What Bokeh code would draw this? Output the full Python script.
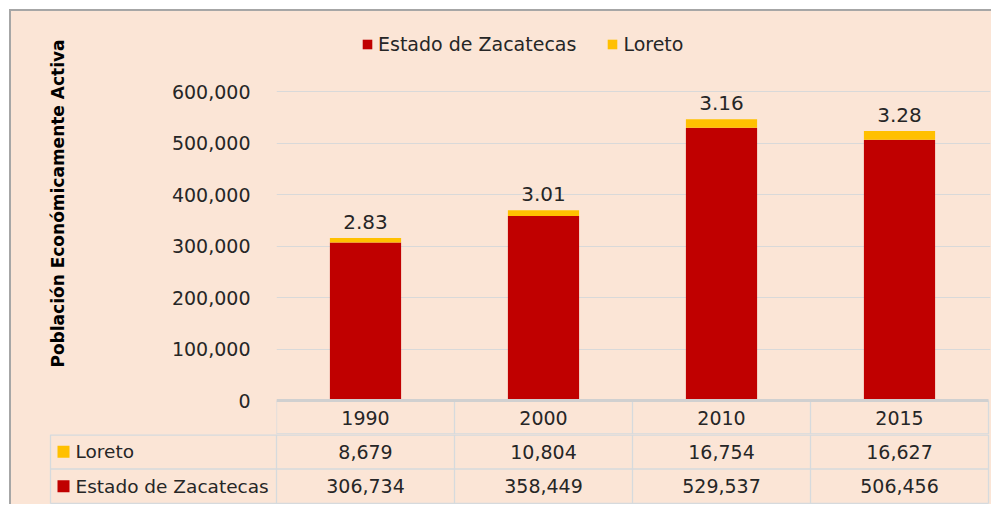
import math
from bokeh.plotting import figure
from bokeh.models import (ColumnDataSource, FixedTicker, NumeralTickFormatter, Range1d,
                          Legend, LegendItem, Div, Spacer, Label)
from bokeh.layouts import column, row
from bokeh.embed import file_html
from bokeh.resources import INLINE
from bokeh.core.properties import value

# ---------------- data ----------------
years = ["1990", "2000", "2010", "2015"]
estado = [306734, 358449, 529537, 506456]
loreto = [8679, 10804, 16754, 16627]
series_names = ["Estado de Zacatecas", "Loreto"]
y_ticks = [0, 100000, 200000, 300000, 400000, 500000, 600000]
y_title = "Población Económicamente Activa"

# ---------------- style ----------------
colors = ["#c00000", "#ffc000"]
FONT = "DejaVu Sans"
TXT = "#262626"
BG = "#fbe5d6"
GRID = "#d9d9d9"
CELL = "#d6dadd"
AXIS_LINE = "#d0d0d0"
EDGE = "#a6a6a6"

# ---------------- layout geometry (px, page-layout coords) ----------------
OFF = 11            # figures start here (9 white + 2 grey edge)
FIG_W = 980
TITLE_W = 90        # strip holding the rotated y title
FRAME_L = 276       # left of category area
FRAME_R = 990
TABLE_L = 48        # frame left of table figure
Y_TOP = 20          # chart frame top
Y_MAX_PX = 91       # pixel of top tick
Y_ZERO_PX = 400     # pixel of zero line
Y_ROW_PX = 434      # bottom of year row
TOTAL_H = 504
PX_PER_CAT = 178.0
TITLE_X = 57
TITLE_Y = 203

n = len(years)
xs = [i + 0.5 for i in range(n)]
totals = [e + l for e, l in zip(estado, loreto)]
pct = [f"{l / e * 100:.2f}" for l, e in zip(loreto, estado)]

src = ColumnDataSource(dict(x=xs, year=years, estado=estado, loreto=loreto,
                            total=totals, pct=pct,
                            estado_s=[f"{v:,}" for v in estado],
                            loreto_s=[f"{v:,}" for v in loreto]))

common_fig = dict(output_backend="svg", toolbar_location=None,
                  background_fill_alpha=0, border_fill_alpha=0, outline_line_color=None,
                  styles={"background-color": BG})

# ---------------- y title strip ----------------
P_H = Y_ROW_PX - OFF
tf = figure(width=TITLE_W, height=P_H, x_range=Range1d(0, 1), y_range=Range1d(0, 1),
            x_axis_type=None, y_axis_type=None, min_border=0, **common_fig)
tf.frame_align = False
tf.grid.visible = False
tf.add_layout(Label(x=TITLE_X - OFF, y=P_H - (TITLE_Y - OFF), x_units="screen", y_units="screen",
                    text=y_title, angle=math.pi / 2, text_align="center", text_baseline="middle",
                    text_font=FONT, text_font_size="17px", text_font_style="bold",
                    text_color="#000000"))

# ---------------- chart ----------------
u = y_ticks[-1] / (Y_ZERO_PX - Y_MAX_PX)
y_end = y_ticks[-1] + (Y_MAX_PX - Y_TOP) * u
y_start = -(Y_ROW_PX - Y_ZERO_PX) * u
x_end = (FRAME_R - FRAME_L) / PX_PER_CAT

p = figure(width=FIG_W - TITLE_W, height=P_H, x_range=Range1d(0, x_end),
           y_range=Range1d(y_start, y_end), x_axis_type=None,
           min_border_left=FRAME_L - OFF - TITLE_W, min_border_right=OFF + FIG_W - FRAME_R,
           min_border_top=Y_TOP - OFF, min_border_bottom=0, **common_fig)
p.frame_align = False

p.xgrid.visible = False
p.ygrid.ticker = FixedTicker(ticks=y_ticks[1:])
p.ygrid.grid_line_color = GRID
p.ygrid.grid_line_width = 1

ax = p.yaxis[0]
ax.ticker = FixedTicker(ticks=y_ticks)
ax.formatter = NumeralTickFormatter(format="0,0")
ax.axis_line_color = None
ax.major_tick_line_color = None
ax.minor_tick_line_color = None
ax.major_label_standoff = 20
ax.major_label_text_font = FONT
ax.major_label_text_font_size = "19px"
ax.major_label_text_color = TXT

bars = p.vbar_stack(["estado", "loreto"], x="x", width=0.4, color=colors,
                    line_color=None, source=src)

p.text(x="x", y="total", text="pct", source=src, text_align="center",
       text_baseline="alphabetic", y_offset=-16, text_font=value(FONT),
       text_font_size="20px", text_color=TXT)

# year row of the data table (lives under the zero line)
p.segment(x0=list(range(n + 1)), y0=[y_start] * (n + 1), x1=list(range(n + 1)), y1=[0] * (n + 1),
          line_color=CELL, line_width=1.3)
p.segment(x0=0, y0=y_start, x1=n, y1=y_start, line_color=CELL, line_width=2.6)
p.segment(x0=0, y0=0, x1=n, y1=0, line_width=3, line_color=AXIS_LINE)
p.text(x="x", y=y_start / 2, text="year", source=src, text_align="center",
       text_baseline="middle", text_font=value(FONT), text_font_size="19px", text_color=TXT)

legend = Legend(items=[LegendItem(label=series_names[0], renderers=[bars[0]]),
                       LegendItem(label=series_names[1], renderers=[bars[1]])],
                orientation="horizontal", location=(85, Y_ROW_PX - 55),
                glyph_width=12, glyph_height=12, label_standoff=5, spacing=30,
                padding=0, margin=0, border_line_color=None, background_fill_alpha=0,
                label_text_font=FONT, label_text_font_size="19px", label_text_color=TXT)
p.add_layout(legend)

# ---------------- data table (two series rows) ----------------
T_H = TOTAL_H - Y_ROW_PX
t_x0 = (TABLE_L - FRAME_L) / PX_PER_CAT
t_x1 = (FRAME_R - FRAME_L) / PX_PER_CAT
lab_left = (TABLE_L + 2 - FRAME_L) / PX_PER_CAT

t = figure(width=FIG_W, height=T_H, x_range=Range1d(t_x0, t_x1), y_range=Range1d(-0.03, 2.0),
           x_axis_type=None, y_axis_type=None,
           min_border_left=TABLE_L - OFF, min_border_right=OFF + FIG_W - FRAME_R,
           min_border_top=0, min_border_bottom=0, **common_fig)
t.frame_align = False
t.grid.visible = False

t.segment(x0=list(range(n + 1)), y0=[0] * (n + 1), x1=list(range(n + 1)), y1=[2] * (n + 1),
          line_color=CELL, line_width=1.3)
t.segment(x0=[lab_left], y0=[0], x1=[lab_left], y1=[2], line_color=CELL, line_width=1.3)
t.segment(x0=[lab_left] * 2, y0=[0, 1], x1=[n] * 2, y1=[0, 1], line_color=CELL, line_width=1.3)
t.segment(x0=[lab_left], y0=[2], x1=[n], y1=[2], line_color=CELL, line_width=2.6)

common = dict(source=src, text_align="center", text_baseline="middle",
              text_font=value(FONT), text_font_size="19px", text_color=TXT)
t.text(x="x", y=1.5, text="loreto_s", **common)
t.text(x="x", y=0.5, text="estado_s", **common)

row_src = ColumnDataSource(dict(y=[1.5, 0.5], name=[series_names[1], series_names[0]],
                                color=[colors[1], colors[0]]))
t.rect(x=lab_left + 13 / PX_PER_CAT, y="y", width=12, height=12, width_units="screen",
       height_units="screen", fill_color="color", line_color=None, source=row_src)
t.text(x=lab_left + 25 / PX_PER_CAT, y="y", text="name", source=row_src, text_align="left",
       text_baseline="middle", text_font=value(FONT), text_font_size="18.5px", text_color=TXT)

# ---------------- outer frame: white gap + grey edge ----------------
top_edge = Div(text="", width=FIG_W + 2, height=2, margin=0, styles={"background-color": EDGE})
left_edge = Div(text="", width=2, height=TOTAL_H - OFF, margin=0, styles={"background-color": EDGE})
layout = column(
    Spacer(width=OFF + FIG_W, height=OFF - 2),
    row(Spacer(width=OFF - 2, height=2), top_edge, spacing=0),
    row(Spacer(width=OFF - 2, height=TOTAL_H - OFF), left_edge,
        column(row(tf, p, spacing=0), t, spacing=0), spacing=0),
    spacing=0,
)

open("out.html", "w").write(file_html(layout, INLINE))
